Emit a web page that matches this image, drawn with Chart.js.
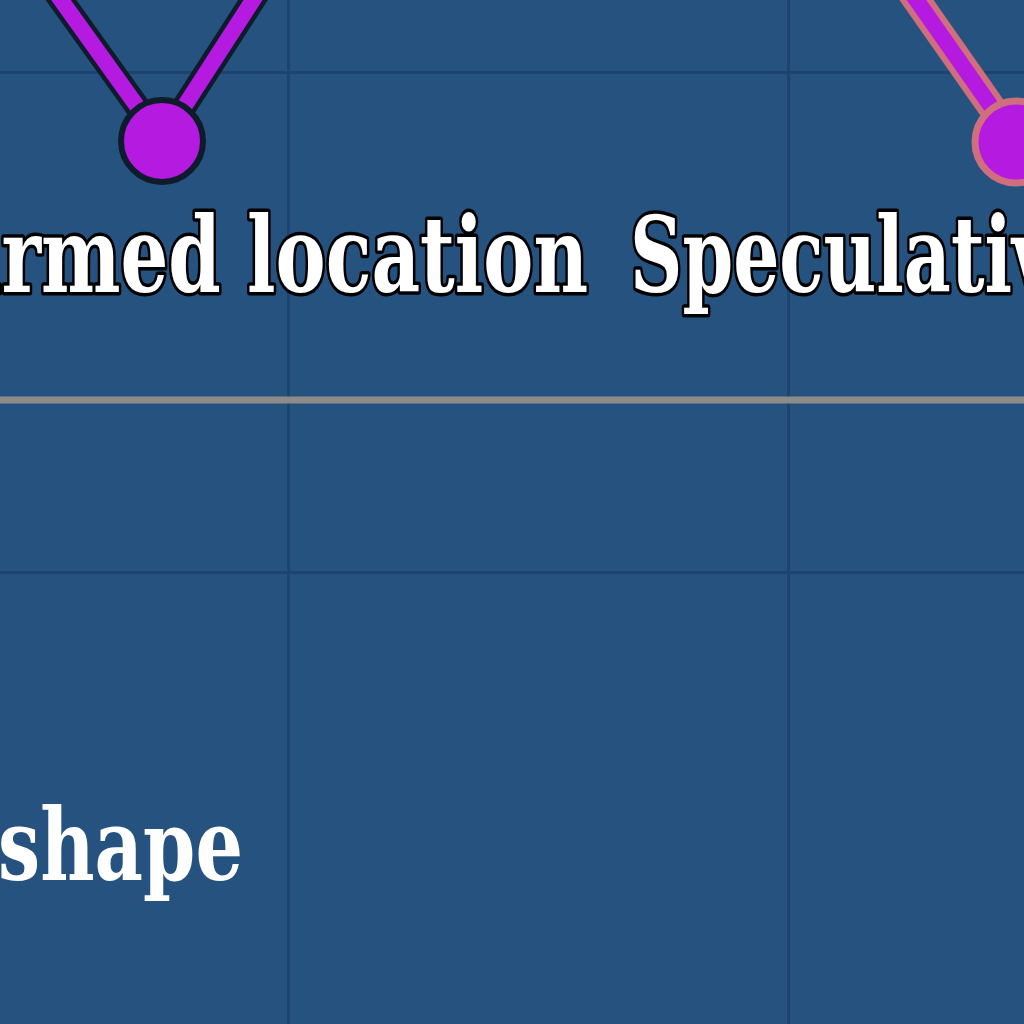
<!DOCTYPE html>
<html>
<head>
<meta charset="utf-8">
<style>
  html, body { margin: 0; padding: 0; background: #25527f; }
  #wrap { width: 1024px; height: 1024px; }
  canvas { display: block; }
</style>
<script src="https://cdn.jsdelivr.net/npm/chart.js@4.4.1/dist/chart.umd.min.js"></script>
</head>
<body>
<div id="wrap"><canvas id="c" width="1024" height="1024"></canvas></div>
<script>
// ---- data (zoomed-in view of a track chart) ----
const gridXTicks = [0, 1];
const gridYTicks = [0, 1];
const trackX = [-0.656, -0.252, 0.112, 1.058, 1.456];
const trackY = [1.426, 0.862, 1.426, 1.428, 0.860];
const trackStatus = ['confirmed', 'confirmed', 'confirmed', 'speculative', 'speculative'];
const refLineX = [-1, 2];
const refLineY = [0.344, 0.344];
const labelTexts = ['Confirmed location', 'Speculative location', 'shape'];
const labelDataX = [0.6, 0.684, -0.09];
const labelDataY = [0.56, 0.56, -0.616];

// ---- styles ----
const BG = '#25527f';
const GRID = '#1d446e';
const PURPLE = '#b41ae0';
const DARK = '#0d1b2b';
const PINK = '#cf6e7c';
const REF = '#8e8c8a';

const labelStyles = [
  { align: 'right', size: 104, outline: true, fitWord: 'location', fitWidth: 341 },
  { align: 'left',  size: 104, outline: true, fitWord: 'Speculati', fitWidth: 382 },
  { align: 'right', size: 100, outline: false, fitWord: 'shape', fitWidth: 245 }
];

const trackData = trackX.map((x, i) => ({ x: x, y: trackY[i] }));
const refData = refLineX.map((x, i) => ({ x: x, y: refLineY[i] }));

const bgPlugin = {
  id: 'bg',
  beforeDraw(chart) {
    const ctx = chart.ctx;
    ctx.save();
    ctx.fillStyle = BG;
    ctx.fillRect(0, 0, chart.width, chart.height);
    ctx.restore();
  }
};

const labelPlugin = {
  id: 'labels',
  afterDatasetsDraw(chart) {
    const ctx = chart.ctx;
    const xs = chart.scales.x, ys = chart.scales.y;
    labelTexts.forEach((t, i) => {
      const st = labelStyles[i];
      const px = xs.getPixelForValue(labelDataX[i]);
      const py = ys.getPixelForValue(labelDataY[i]);
      ctx.save();
      ctx.font = '600 ' + st.size + 'px "DejaVu Serif"';
      const s = st.fitWidth / ctx.measureText(st.fitWord).width;
      ctx.translate(px, py);
      ctx.scale(s, 1);
      ctx.textAlign = st.align;
      ctx.textBaseline = 'alphabetic';
      if (st.outline) {
        ctx.lineWidth = 7;
        ctx.lineJoin = 'round';
        ctx.strokeStyle = '#000000';
        ctx.strokeText(t, 0, 0);
      }
      ctx.fillStyle = '#ffffff';
      ctx.fillText(t, 0, 0);
      ctx.restore();
    });
  }
};

const isSpec = i => trackStatus[i] === 'speculative';

new Chart(document.getElementById('c'), {
  type: 'line',
  data: {
    datasets: [
      {
        label: 'reference',
        data: refData,
        borderColor: REF,
        borderWidth: 7,
        pointRadius: 0,
        order: 3
      },
      {
        label: 'casing',
        data: trackData,
        borderColor: DARK,
        borderWidth: 25,
        pointRadius: 0,
        borderJoinStyle: 'round',
        borderCapStyle: 'round',
        segment: {
          borderColor: c => isSpec(c.p1DataIndex) ? PINK : DARK,
          borderWidth: c => isSpec(c.p1DataIndex) ? 28 : 25
        },
        order: 2
      },
      {
        label: 'track',
        data: trackData,
        borderColor: PURPLE,
        borderWidth: 16,
        borderJoinStyle: 'round',
        borderCapStyle: 'round',
        pointRadius: 41,
        pointBackgroundColor: PURPLE,
        pointBorderColor: trackStatus.map((s, i) => isSpec(i) ? PINK : DARK),
        pointBorderWidth: trackStatus.map((s, i) => isSpec(i) ? 7 : 6),
        order: 1
      }
    ]
  },
  options: {
    responsive: false,
    animation: false,
    events: [],
    layout: { padding: 0, autoPadding: false },
    plugins: { legend: { display: false }, tooltip: { enabled: false }, title: { display: false } },
    scales: {
      x: {
        type: 'linear',
        min: -0.576,
        max: 1.472,
        afterBuildTicks: sc => { sc.ticks = gridXTicks.map(v => ({ value: v })); },
        ticks: { display: false },
        border: { display: false },
        grid: { color: GRID, lineWidth: 3, drawTicks: false }
      },
      y: {
        type: 'linear',
        min: -0.904,
        max: 1.144,
        afterBuildTicks: sc => { sc.ticks = gridYTicks.map(v => ({ value: v })); },
        ticks: { display: false },
        border: { display: false },
        grid: { color: GRID, lineWidth: 3, drawTicks: false }
      }
    }
  },
  plugins: [bgPlugin, labelPlugin]
});
</script>
</body>
</html>
